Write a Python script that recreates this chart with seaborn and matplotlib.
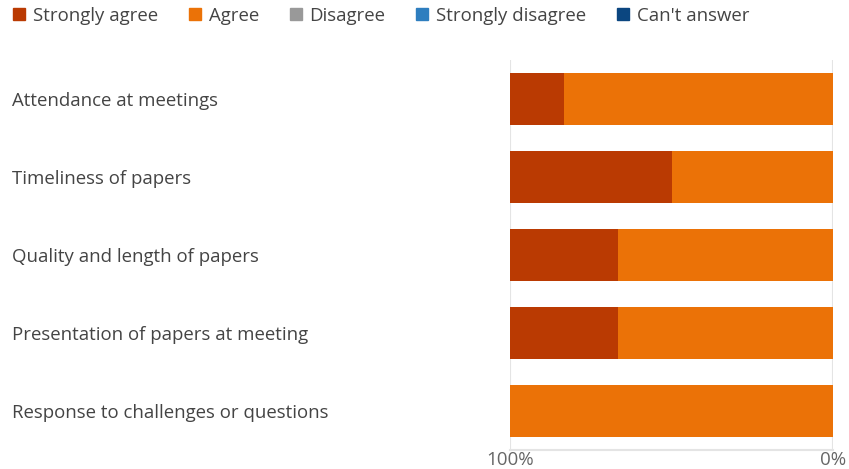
import matplotlib
matplotlib.use("Agg")
import matplotlib.pyplot as plt
import seaborn as sns
import pandas as pd
from matplotlib.lines import Line2D

# Survey results (percent of respondents)
categories = [
    "Attendance at meetings",
    "Timeliness of papers",
    "Quality and length of papers",
    "Presentation of papers at meeting",
    "Response to challenges or questions",
]
strongly_agree = [16.7, 50.0, 33.3, 33.3, 0.0]
agree = [83.3, 50.0, 66.7, 66.7, 100.0]
disagree = [0, 0, 0, 0, 0]
strongly_disagree = [0, 0, 0, 0, 0]
cant_answer = [0, 0, 0, 0, 0]

series_names = ["Strongly agree", "Agree", "Disagree", "Strongly disagree", "Can't answer"]
colors = ["#BA3A02", "#EB7207", "#999999", "#2E7EBF", "#0B4680"]
tick_values = [100, 0]
tick_labels = ["100%", "0%"]

df = pd.DataFrame({
    "category": categories,
    "Strongly agree": strongly_agree,
    "Agree": agree,
    "Disagree": disagree,
    "Strongly disagree": strongly_disagree,
    "Can't answer": cant_answer,
})

sns.set_theme(style="white")
plt.rcParams["font.family"] = ["Open Sans", "DejaVu Sans"]

fig = plt.figure(figsize=(8.49, 4.69), dpi=100)
ax = fig.add_axes([510 / 849, 1 - 450 / 469, (833 - 510) / 849, (450 - 60) / 469])

# Stack in reverse so the first series sits furthest from zero (x axis is reversed)
cols = series_names[::-1]
color_map = dict(zip(series_names, colors))
cum = df[cols].cumsum(axis=1)
for name in reversed(cols):
    sns.barplot(data=df.assign(total=cum[name]), x="total", y="category",
                orient="h", color=color_map[name], width=0.667,
                saturation=1, ax=ax, linewidth=0)

ax.set_xlim(100, 0)
ax.set_ylim(4.5, -0.5)
ax.set_xlabel("")
ax.set_ylabel("")
ax.set_xticks(tick_values)
ax.set_xticklabels(tick_labels, color="#666666", fontsize=13.5)
ax.tick_params(axis="x", length=0, pad=1)
ax.set_axisbelow(True)
ax.grid(axis="x", color="#e4e4e4", linewidth=1.5)
ax.grid(axis="y", visible=False)
for side in ["top", "right", "left"]:
    ax.spines[side].set_visible(False)
ax.spines["bottom"].set_color("#e4e4e4")
ax.spines["bottom"].set_linewidth(1.5)

# Category labels, left aligned near the figure edge
ax.tick_params(axis="y", length=0, pad=(510 - 12) * 72 / 100)
for lbl in ax.get_yticklabels():
    lbl.set_horizontalalignment("left")
    lbl.set_color("#444444")
    lbl.set_fontsize(13.4)

handles = [Line2D([0], [0], marker="s", linestyle="none", markersize=9,
                  markerfacecolor=c, markeredgecolor=c) for c in colors]
fig.legend(handles, series_names, loc="upper left", bbox_to_anchor=(0.0, 1.009),
           ncol=5, frameon=False, fontsize=13.4, handlelength=0.8,
           handletextpad=0.35, columnspacing=1.58, labelcolor="#444444",
           borderaxespad=0.2)

fig.savefig("out.png", dpi=100)
